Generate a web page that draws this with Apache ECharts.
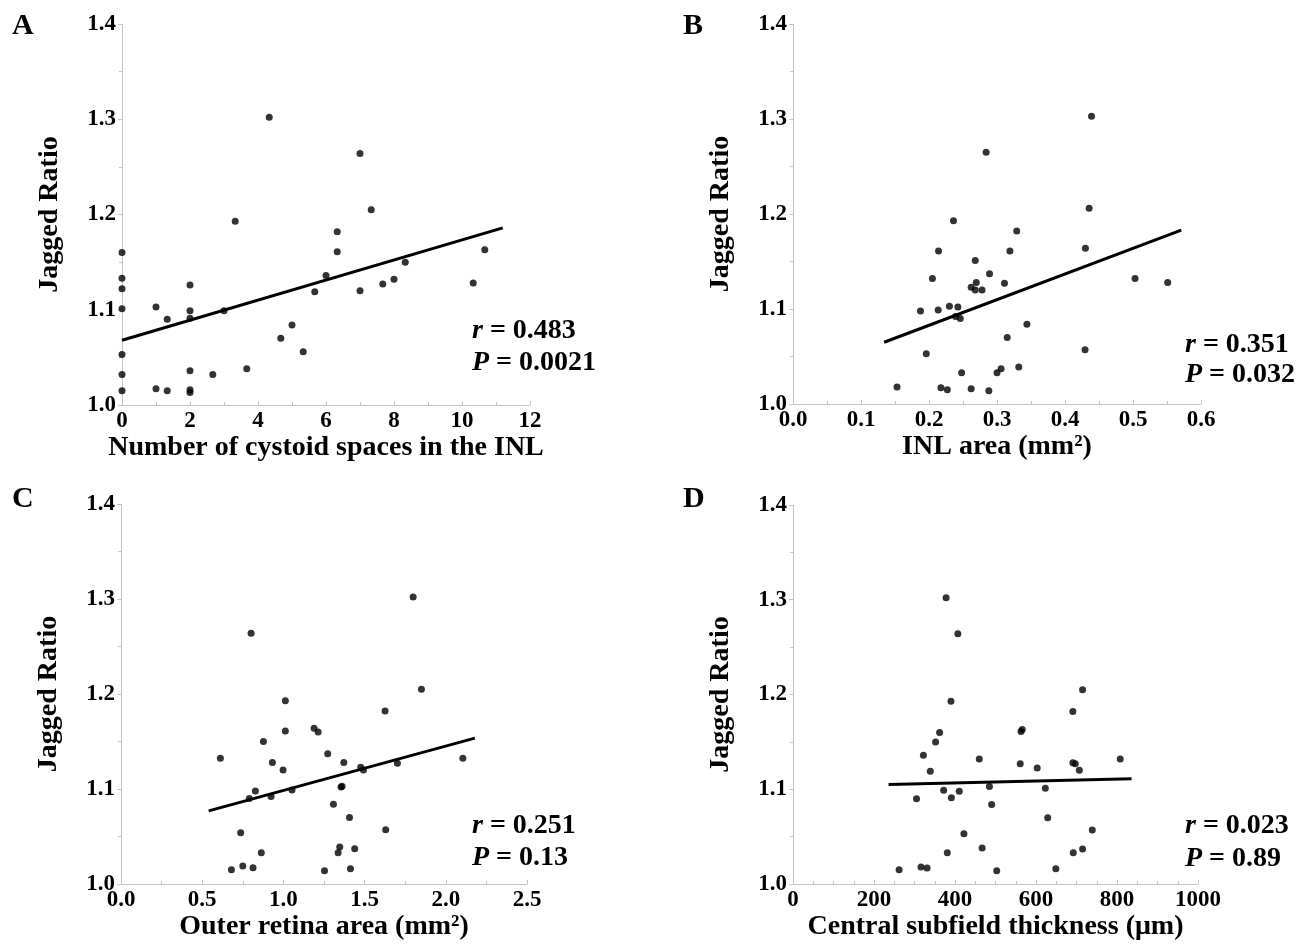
<!DOCTYPE html>
<html>
<head>
<meta charset="utf-8">
<script src="https://cdn.jsdelivr.net/npm/echarts@6/dist/echarts.min.js"></script>
<style>
html,body{margin:0;padding:0;background:#fff;}
#chart{width:1311px;height:946px;}
</style>
</head>
<body>
<div id="chart"></div>
<script>
// ---- Data ----
const yTickLabels = ['1.0','1.1','1.2','1.3','1.4'];

// Panel A: number of cystoid spaces in the INL
const aX = [0,0,0,0,0,0,0,1,1,1.33,1.33,2,2,2,2,2,2,2.67,3,3.33,3.67,4.33,4.67,5,5.33,5.67,6,6.33,6.33,7,7,7.33,7.67,8,8.33,10.33,10.67];
const aY = [1.160,1.133,1.122,1.101,1.053,1.032,1.015,1.103,1.017,1.090,1.015,1.126,1.099,1.091,1.036,1.016,1.013,1.032,1.099,1.193,1.038,1.302,1.070,1.084,1.056,1.119,1.136,1.182,1.161,1.264,1.120,1.205,1.127,1.132,1.150,1.128,1.163];
const aFitX = [0, 11.2];
const aFitY = [1.068, 1.186];

// Panel B: INL area (mm2)
const bX = [0.153,0.1875,0.196,0.205,0.214,0.2135,0.2175,0.227,0.230,0.236,0.239,0.2425,0.246,0.248,0.262,0.262,0.268,0.268,0.2695,0.278,0.284,0.288,0.289,0.300,0.306,0.311,0.315,0.319,0.329,0.332,0.344,0.4295,0.430,0.4355,0.439,0.503,0.551];
const bY = [1.018,1.098,1.053,1.132,1.161,1.099,1.017,1.015,1.103,1.193,1.092,1.102,1.090,1.033,1.123,1.016,1.151,1.120,1.128,1.120,1.265,1.014,1.137,1.033,1.037,1.127,1.070,1.161,1.182,1.039,1.084,1.057,1.164,1.206,1.303,1.132,1.128];
const bFitX = [0.134, 0.571];
const bFitY = [1.065, 1.183];

// Panel C: outer retina area (mm2)
const cX = [0.612,0.680,0.737,0.750,0.790,0.801,0.813,0.8275,0.864,0.877,0.924,0.932,0.998,1.012,1.012,1.053,1.189,1.214,1.253,1.273,1.308,1.337,1.347,1.355,1.361,1.372,1.407,1.413,1.439,1.476,1.493,1.626,1.630,1.702,1.799,1.850,2.105];
const cY = [1.1325,1.015,1.054,1.019,1.090,1.264,1.017,1.098,1.033,1.150,1.092,1.128,1.120,1.193,1.161,1.099,1.164,1.160,1.014,1.137,1.084,1.033,1.039,1.102,1.103,1.128,1.070,1.016,1.037,1.123,1.120,1.182,1.057,1.127,1.302,1.205,1.1325];
const cFitX = [0.540, 2.179];
const cFitY = [1.077, 1.1535];

// Panel D: central subfield thickness (um)
const dX = [262,305,316,322,331,339,352,362,372,378,381,390,391,407,410.5,422,460,467,485,490.5,503,561,563,566,603,623,629,649,691,691,692,697,707,715,715,739,808];
const dY = [1.015,1.090,1.018,1.136,1.017,1.119,1.150,1.160,1.099,1.302,1.033,1.193,1.091,1.264,1.098,1.053,1.132,1.038,1.103,1.084,1.014,1.127,1.161,1.163,1.1225,1.101,1.070,1.016,1.182,1.128,1.033,1.127,1.120,1.205,1.037,1.057,1.132];
const dFitX = [236, 836];
const dFitY = [1.105, 1.111];

const panelLetters = ['A','B','C','D'];
const xNames = ['Number of cystoid spaces in the INL','INL area (mm\u00B2)','Outer retina area (mm\u00B2)','Central subfield thickness (\u03BCm)'];
const yName = 'Jagged Ratio';
const rTexts = ['0.483','0.351','0.251','0.023'];
const pTexts = ['0.0021','0.032','0.13','0.89'];
const xRanges = [[0,12,2,2,0],[0,0.6,0.1,2,1],[0,2.5,0.5,2,1],[0,1000,200,4,0]];

// ---- Chart ----
const FONT = '"Liberation Serif", "Times New Roman", serif';
const AXIS_COLOR = '#c4c4c4';

const grids = [
  {left:122, top:24, width:408, height:381},
  {left:793, top:24, width:408, height:380},
  {left:121, top:504, width:406, height:380},
  {left:793, top:505, width:405, height:379}
];

function zip(xs, ys){ return xs.map((x,i)=>[x, ys[i]]); }
const scatterData = [zip(aX,aY), zip(bX,bY), zip(cX,cY), zip(dX,dY)];
const fitData = [zip(aFitX,aFitY), zip(bFitX,bFitY), zip(cFitX,cFitY), zip(dFitX,dFitY)];

const xAxes = [], yAxes = [], series = [];
for (let i=0;i<4;i++){
  const r = xRanges[i];
  xAxes.push({
    gridIndex:i, type:'value', min:r[0], max:r[1], interval:r[2],
    name:xNames[i], nameLocation:'middle', nameGap:27,
    nameTextStyle:{fontFamily:FONT, fontWeight:'bold', fontSize:28, color:'#000'},
    axisLine:{show:true, lineStyle:{color:AXIS_COLOR, width:1}},
    axisTick:{show:true, inside:true, length:4, lineStyle:{color:AXIS_COLOR}},
    minorTick:{show:true, splitNumber:r[3], length:3, lineStyle:{color:AXIS_COLOR}},
    splitLine:{show:false},
    axisLabel:{fontFamily:FONT, fontWeight:'bold', fontSize:23, color:'#000', margin:5,
      formatter: (v)=> r[4] ? v.toFixed(1) : String(Math.round(v))}
  });
  yAxes.push({
    gridIndex:i, type:'value', min:1.0, max:1.4, interval:0.1,
    name:yName, nameLocation:'middle', nameGap:58,
    nameTextStyle:{fontFamily:FONT, fontWeight:'bold', fontSize:28, color:'#000'},
    axisLine:{show:true, lineStyle:{color:AXIS_COLOR, width:1}},
    axisTick:{show:true, inside:false, length:4, lineStyle:{color:AXIS_COLOR}},
    minorTick:{show:true, splitNumber:2, length:3, lineStyle:{color:AXIS_COLOR}},
    splitLine:{show:false},
    axisLabel:{fontFamily:FONT, fontWeight:'bold', fontSize:23, color:'#000', margin:6,
      formatter:(v)=> yTickLabels[Math.round((v-1.0)*10)] }
  });
  series.push({
    type:'scatter', xAxisIndex:i, yAxisIndex:i, data:scatterData[i],
    symbol:'circle', symbolSize:7, itemStyle:{color:'#000'}, silent:true, animation:false
  });
  series.push({
    type:'line', xAxisIndex:i, yAxisIndex:i, data:fitData[i],
    symbol:'none', lineStyle:{color:'#000', width:3}, silent:true, animation:false
  });
}

const letterPos = [[12,26],[683,26],[12,499],[683,499]];
const statPos = [[472,332,364],[1185,346,376],[472,827,859],[1185,827,860]];
const graphic = [];
for (let i=0;i<4;i++){
  graphic.push({type:'text', left:letterPos[i][0], top:letterPos[i][1]-15,
    style:{text:panelLetters[i], fontFamily:FONT, fontWeight:'bold', fontSize:30, fill:'#000'}});
  const rich = {
    i:{fontFamily:FONT, fontWeight:'bold', fontStyle:'italic', fontSize:28, fill:'#000'},
    n:{fontFamily:FONT, fontWeight:'bold', fontSize:28, fill:'#000'}
  };
  graphic.push({type:'text', left:statPos[i][0], top:statPos[i][1]-15,
    style:{text:'{i|r}{n| = '+rTexts[i]+'}', rich:rich, fontFamily:FONT, fontSize:28}});
  graphic.push({type:'text', left:statPos[i][0], top:statPos[i][2]-15,
    style:{text:'{i|P}{n| = '+pTexts[i]+'}', rich:rich, fontFamily:FONT, fontSize:28}});
}

const chart = echarts.init(document.getElementById('chart'), null, {renderer:'canvas'});
chart.setOption({
  animation:false,
  backgroundColor:'#fff',
  grid:grids,
  xAxis:xAxes,
  yAxis:yAxes,
  series:series,
  graphic:graphic
});
</script>
</body>
</html>
